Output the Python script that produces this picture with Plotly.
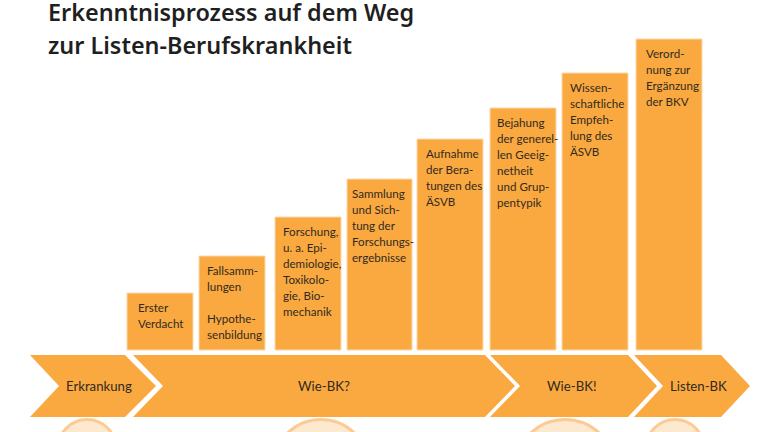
import plotly.graph_objs as go

# Stufen
stufen = ["Erster<br>Verdacht",
          "Fallsamm-<br>lungen<br><br>Hypothe-<br>senbildung",
          "Forschung,<br>u. a. Epi-<br>demiologie,<br>Toxikolo-<br>gie, Bio-<br>mechanik",
          "Sammlung<br>und Sich-<br>tung der<br>Forschungs-<br>ergebnisse",
          "Aufnahme<br>der Bera-<br>tungen des<br>ÄSVB",
          "Bejahung<br>der generel-<br>len Geeig-<br>netheit<br>und Grup-<br>pentypik",
          "Wissen-<br>schaftliche<br>Empfeh-<br>lung des<br>ÄSVB",
          "Verord-<br>nung zur<br>Ergänzung<br>der BKV"]
hoehen = [57, 94, 133, 171, 211, 242, 277, 311]

# Phasen
phasen = ["Erkrankung", "Wie-BK?", "Wie-BK!", "Listen-BK"]

titel = ["Erkenntnisprozess auf dem Weg", "zur Listen-Berufskrankheit"]

ORANGE = "#f9a940"
RAND = "#fcd9ac"
TEXT = "#33291f"
SCHRIFT = "Lato"

# Lage der Balken in Pixeln
links = [127, 199, 275, 347, 417, 490, 562, 636]
rechts = [193, 265, 341, 412, 483, 556, 628, 702]
text_x = [136, 205, 281, 350, 424, 495, 568, 644]

# Lage der Pfeile: linke Kante, Kerbe, rechte Kante, Spitze
pfeile = [(30, 59, 125, 156), (133, 163, 485, 515), (490, 520, 628, 657), (634, 663, 721, 750)]
phasen_x = [98.5, 324, 571, 698.5]
oben, mitte, unten = -5, -36, -67

# Kreise am unteren Rand
kreis_x = [87, 321, 565, 675]
kreis_r = [29, 48, 50, 29]

fig = go.Figure()

fig.add_trace(go.Bar(
    x=[(l + r) / 2 for l, r in zip(links, rechts)],
    y=hoehen,
    width=[r - l for l, r in zip(links, rechts)],
    marker=dict(color=ORANGE, line=dict(color=RAND, width=1)),
    hoverinfo="skip",
))

for (a, b, c, d) in pfeile:
    fig.add_trace(go.Scatter(
        x=[a, c, d, c, a, b, a],
        y=[oben, oben, mitte, unten, unten, mitte, oben],
        mode="lines", fill="toself", fillcolor=ORANGE,
        line=dict(width=0), hoverinfo="skip",
    ))

for x, r in zip(kreis_x, kreis_r):
    fig.add_shape(type="circle", x0=x - r, x1=x + r, y0=-69.5 - 2 * r, y1=-69.5,
                  fillcolor="#fde8d0", line=dict(color="#fccb94", width=3), layer="below")

# jede Zeile einzeln, damit der Abstand von 16 px stimmt
for x, h, s in zip(text_x, hoehen, stufen):
    for i, zeile in enumerate(s.split("<br>")):
        if zeile:
            fig.add_annotation(x=x, y=h - 14 - i * 16, text=zeile, showarrow=False, xanchor="left",
                               font=dict(family=SCHRIFT, size=11.6, color=TEXT))

for x, s in zip(phasen_x, phasen):
    fig.add_annotation(x=x, y=mitte, text=s, showarrow=False,
                       font=dict(family=SCHRIFT, size=13.2, color=TEXT))

for i, zeile in enumerate(titel):
    fig.add_annotation(x=46, y=338.5 - i * 33, text=zeile, showarrow=False, xanchor="left",
                       font=dict(family="Noto Sans", size=23.4, color="#1f1f1f", weight=600))

fig.update_layout(
    width=768, height=432, margin=dict(l=0, r=0, t=0, b=0),
    paper_bgcolor="white", plot_bgcolor="white", showlegend=False,
    xaxis=dict(range=[0, 768], visible=False, fixedrange=True),
    yaxis=dict(range=[-82, 350], visible=False, fixedrange=True),
)

fig.write_html("out.html", config=dict(displayModeBar=False),
               post_script="document.body.style.margin='0';")
